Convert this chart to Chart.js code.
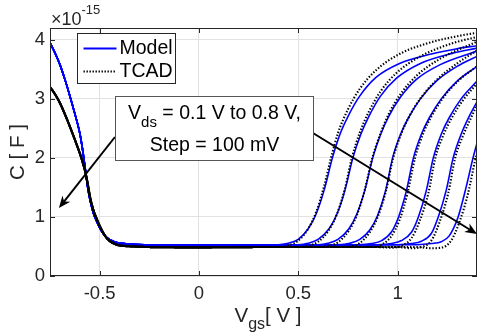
<!DOCTYPE html>
<html>
<head>
<meta charset="utf-8">
<script src="https://cdn.jsdelivr.net/npm/chart.js@4.4.1/dist/chart.umd.min.js"></script>
<style>
html,body{margin:0;padding:0;background:#fff;}
#wrap{width:478px;height:333px;position:relative;}
</style>
</head>
<body>
<div id="wrap"><canvas id="c"></canvas></div>
<script>
// ---------- data (C in units of 1e-15 F, Vgs in V) ----------
const xTicks = [-0.5, 0, 0.5, 1];
const yTicks = [0, 1, 2, 3, 4];
const xRange = [-0.75, 1.4];
const yRange = [0, 4.2];
const legendLabels = ['Model', 'TCAD'];
const exponentText = ['\u00d710', '-15'];
const xTitle = ['V', 'gs', '[ V ]'];
const yTitle = 'C [ F ]';
const noteLine1 = ['V', 'ds', ' = 0.1 V to 0.8 V,'];
const noteLine2 = 'Step = 100 mV';

// shared branch at negative Vgs (identical for all Vds)
const modelLeft = [[-0.75,3.95],[-0.725,3.78],[-0.70,3.58],[-0.675,3.33],[-0.65,3.05],[-0.625,2.75],[-0.60,2.42],[-0.585,2.12],[-0.572,1.80],[-0.56,1.50],[-0.548,1.28],[-0.53,1.05],[-0.514,0.92],[-0.50,0.82],[-0.48,0.71],[-0.464,0.65],[-0.44,0.60],[-0.414,0.565],[-0.38,0.55],[-0.33,0.535],[-0.25,0.525],[-0.1,0.52],[0.1,0.52],[0.3,0.52]];
const tcadLeft = [[-0.75,3.20],[-0.725,3.08],[-0.70,2.93],[-0.675,2.74],[-0.65,2.53],[-0.625,2.31],[-0.60,2.08],[-0.585,1.92],[-0.572,1.76],[-0.56,1.56],[-0.548,1.33],[-0.53,1.10],[-0.514,0.96],[-0.50,0.85],[-0.48,0.72],[-0.464,0.64],[-0.44,0.57],[-0.414,0.53],[-0.38,0.51],[-0.33,0.50],[-0.25,0.49],[0.0,0.485],[0.3,0.49]];

// positive-Vgs branch, one per Vds = 0.1 ... 0.8 V
const modelVds01 = [[0.40,0.53],[0.45,0.555],[0.50,0.62],[0.55,0.80],[0.59,1.05],[0.63,1.45],[0.672,2.0],[0.71,2.4],[0.75,2.7],[0.81,3.05],[0.89,3.36],[1.01,3.6],[1.17,3.76],[1.30,3.85],[1.40,3.9]];
const modelVds02 = [[0.50,0.53],[0.55,0.555],[0.60,0.62],[0.655,0.80],[0.695,1.05],[0.735,1.45],[0.775,2.0],[0.815,2.4],[0.855,2.7],[0.915,3.05],[0.995,3.35],[1.115,3.6],[1.275,3.77],[1.40,3.86]];
const modelVds03 = [[0.60,0.53],[0.65,0.555],[0.70,0.62],[0.755,0.80],[0.795,1.05],[0.835,1.45],[0.875,2.0],[0.915,2.4],[0.955,2.7],[1.015,3.03],[1.095,3.33],[1.215,3.58],[1.40,3.81]];
const modelVds04 = [[0.70,0.53],[0.76,0.555],[0.81,0.62],[0.86,0.78],[0.90,1.03],[0.94,1.45],[0.975,2.0],[1.015,2.4],[1.055,2.68],[1.115,3.0],[1.195,3.3],[1.30,3.55],[1.40,3.72]];
const modelVds05 = [[0.80,0.53],[0.87,0.55],[0.92,0.6],[0.97,0.75],[1.005,1.0],[1.045,1.45],[1.08,2.0],[1.12,2.4],[1.16,2.68],[1.22,3.0],[1.30,3.3],[1.40,3.55]];
const modelVds06 = [[0.90,0.53],[0.97,0.55],[1.02,0.6],[1.07,0.74],[1.105,1.0],[1.145,1.45],[1.18,2.0],[1.22,2.4],[1.26,2.68],[1.32,3.0],[1.40,3.3]];
const modelVds07 = [[1.00,0.53],[1.07,0.55],[1.12,0.59],[1.17,0.72],[1.205,1.0],[1.245,1.45],[1.28,2.0],[1.32,2.4],[1.36,2.7],[1.40,2.95]];
const modelVds08 = [[1.10,0.53],[1.17,0.55],[1.22,0.58],[1.26,0.68],[1.305,1.0],[1.345,1.5],[1.38,2.0],[1.40,2.25]];

const tcadVds01 = [[0.40,0.49],[0.45,0.52],[0.50,0.60],[0.55,0.80],[0.59,1.08],[0.63,1.52],[0.665,2.0],[0.70,2.42],[0.75,2.82],[0.81,3.17],[0.89,3.48],[1.01,3.76],[1.17,3.96],[1.30,4.06],[1.40,4.12]];
const tcadVds02 = [[0.50,0.49],[0.55,0.51],[0.60,0.58],[0.655,0.78],[0.695,1.05],[0.735,1.48],[0.77,2.0],[0.81,2.43],[0.855,2.78],[0.915,3.13],[0.995,3.44],[1.115,3.72],[1.275,3.94],[1.40,4.05]];
const tcadVds03 = [[0.60,0.49],[0.65,0.51],[0.70,0.57],[0.755,0.77],[0.795,1.03],[0.835,1.46],[0.873,2.0],[0.915,2.42],[0.955,2.74],[1.015,3.08],[1.095,3.39],[1.215,3.68],[1.40,3.97]];
const tcadVds04 = [[0.70,0.49],[0.76,0.50],[0.81,0.56],[0.86,0.74],[0.90,1.0],[0.94,1.42],[0.978,2.0],[1.02,2.42],[1.06,2.71],[1.12,3.03],[1.20,3.33],[1.30,3.6],[1.40,3.82]];
const tcadVds05 = [[0.80,0.49],[0.87,0.49],[0.92,0.53],[0.97,0.68],[1.01,0.95],[1.05,1.4],[1.088,2.0],[1.13,2.42],[1.17,2.7],[1.23,3.02],[1.31,3.32],[1.40,3.55]];
const tcadVds06 = [[0.90,0.49],[0.97,0.48],[1.02,0.51],[1.07,0.64],[1.11,0.92],[1.155,1.4],[1.19,2.0],[1.23,2.38],[1.27,2.66],[1.33,2.98],[1.40,3.26]];
const tcadVds07 = [[1.00,0.49],[1.07,0.47],[1.12,0.49],[1.17,0.6],[1.21,0.9],[1.255,1.4],[1.29,2.0],[1.33,2.38],[1.37,2.68],[1.40,2.9]];
const tcadVds08 = [[1.10,0.49],[1.17,0.47],[1.22,0.48],[1.27,0.6],[1.31,0.9],[1.355,1.4],[1.39,1.95],[1.40,2.08]];

const modelCurves = [modelVds01, modelVds02, modelVds03, modelVds04, modelVds05, modelVds06, modelVds07, modelVds08];
const tcadCurves = [tcadVds01, tcadVds02, tcadVds03, tcadVds04, tcadVds05, tcadVds06, tcadVds07, tcadVds08];

// ---------- annotation placement (data coordinates) ----------
const notePlace = {box: [-0.423, 3.048, 0.574, 1.964]};
const arrowPlace = [
  [-0.423, 2.354, -0.705, 1.152],
  [0.574, 2.422, 1.400, 0.711]
];

// ---------- styles ----------
const FONT = '"Liberation Sans", Arial, Helvetica, sans-serif';
const AX = '#262626';
const BLUE = '#0000ff';

const toPts = arr => arr.map(p => ({x: p[0], y: p[1]}));
const datasets = [];
tcadCurves.forEach((c, i) => {
  datasets.push({
    label: 'TCAD', data: toPts(tcadLeft.concat(c)),
    borderColor: '#000', borderWidth: 2.1, borderDash: [1.4, 1.8], borderDashOffset: (i % 4) * 0.8,
    showLine: true, pointRadius: 0, cubicInterpolationMode: 'monotone', fill: false
  });
});
modelCurves.forEach(c => {
  datasets.push({
    label: 'Model', data: toPts(modelLeft.concat(c)),
    borderColor: BLUE, borderWidth: 1.6,
    showLine: true, pointRadius: 0, cubicInterpolationMode: 'monotone', fill: false
  });
});

function drawArrow(ctx, x1, y1, x2, y2) {
  const a = Math.atan2(y2 - y1, x2 - x1), L = 12, W = 5, c = Math.cos(a), s = Math.sin(a);
  ctx.beginPath();
  ctx.moveTo(x1, y1);
  ctx.lineTo(x2 - c * L * 0.6, y2 - s * L * 0.6);
  ctx.stroke();
  ctx.beginPath();
  ctx.moveTo(x2, y2);
  ctx.lineTo(x2 - c * L + s * W, y2 - s * L - c * W);
  ctx.lineTo(x2 - c * L * 0.7, y2 - s * L * 0.7);
  ctx.lineTo(x2 - c * L - s * W, y2 - s * L + c * W);
  ctx.closePath();
  ctx.fill();
}

function richLine(ctx, parts, cx, base, big, small, subDrop) {
  ctx.font = big + 'px ' + FONT;
  const w0 = ctx.measureText(parts[0]).width;
  const w2 = ctx.measureText(parts[2]).width;
  ctx.font = small + 'px ' + FONT;
  const w1 = ctx.measureText(parts[1]).width;
  let x = cx - (w0 + w1 + w2) / 2;
  ctx.textAlign = 'left';
  ctx.textBaseline = 'alphabetic';
  ctx.font = big + 'px ' + FONT;
  ctx.fillText(parts[0], x, base); x += w0;
  ctx.font = small + 'px ' + FONT;
  ctx.fillText(parts[1], x, base + subDrop); x += w1;
  ctx.font = big + 'px ' + FONT;
  ctx.fillText(parts[2], x, base);
}

const deco = {
  id: 'deco',
  afterDatasetsDraw(chart) {
    const ctx = chart.ctx, a = chart.chartArea, sx = chart.scales.x, sy = chart.scales.y;
    ctx.save();
    // frame
    ctx.strokeStyle = AX; ctx.lineWidth = 1;
    ctx.strokeRect(a.left + 0.5, a.top + 0.5, a.right - a.left - 1, a.bottom - a.top - 1);
    // inward ticks
    ctx.beginPath();
    xTicks.forEach(v => {
      const p = Math.round(sx.getPixelForValue(v)) + 0.5;
      ctx.moveTo(p, a.bottom); ctx.lineTo(p, a.bottom - 5);
      ctx.moveTo(p, a.top); ctx.lineTo(p, a.top + 5);
    });
    yTicks.forEach(v => {
      const p = Math.round(sy.getPixelForValue(v)) + 0.5;
      ctx.moveTo(a.left, p); ctx.lineTo(a.left + 5, p);
      ctx.moveTo(a.right, p); ctx.lineTo(a.right - 5, p);
    });
    ctx.stroke();

    // arrows
    ctx.strokeStyle = '#000'; ctx.fillStyle = '#000'; ctx.lineWidth = 2;
    arrowPlace.forEach(r => drawArrow(ctx, sx.getPixelForValue(r[0]), sy.getPixelForValue(r[1]), sx.getPixelForValue(r[2]), sy.getPixelForValue(r[3])));

    // note box
    const bx1 = Math.round(sx.getPixelForValue(notePlace.box[0])) + 0.5;
    const by1 = Math.round(sy.getPixelForValue(notePlace.box[1])) + 0.5;
    const bx2 = Math.round(sx.getPixelForValue(notePlace.box[2])) + 0.5;
    const by2 = Math.round(sy.getPixelForValue(notePlace.box[3])) + 0.5;
    ctx.fillStyle = '#fff'; ctx.fillRect(bx1, by1, bx2 - bx1, by2 - by1);
    ctx.strokeStyle = '#555'; ctx.lineWidth = 1; ctx.strokeRect(bx1, by1, bx2 - bx1, by2 - by1);
    ctx.fillStyle = '#000';
    const cx = (bx1 + bx2) / 2;
    richLine(ctx, noteLine1, cx, by1 + 22, 19.5, 15, 8);
    ctx.font = '19.5px ' + FONT; ctx.textAlign = 'center'; ctx.textBaseline = 'alphabetic';
    ctx.fillText(noteLine2, cx, by1 + 54);

    // legend
    const lx = a.left + 27.5, ly = a.top + 5.5, lw = 98, lh = 50;
    ctx.fillStyle = '#fff'; ctx.fillRect(lx, ly, lw, lh);
    ctx.strokeStyle = AX; ctx.lineWidth = 1; ctx.strokeRect(lx, ly, lw, lh);
    ctx.strokeStyle = BLUE; ctx.lineWidth = 1.8;
    ctx.beginPath(); ctx.moveTo(lx + 6, ly + 15); ctx.lineTo(lx + 39, ly + 15); ctx.stroke();
    ctx.strokeStyle = '#000'; ctx.lineWidth = 2.2; ctx.setLineDash([1.4, 1.6]);
    ctx.beginPath(); ctx.moveTo(lx + 6, ly + 38); ctx.lineTo(lx + 39, ly + 38); ctx.stroke();
    ctx.setLineDash([]);
    ctx.fillStyle = '#000'; ctx.font = '19.5px ' + FONT; ctx.textAlign = 'left'; ctx.textBaseline = 'middle';
    ctx.fillText(legendLabels[0], lx + 42, ly + 15);
    ctx.fillText(legendLabels[1], lx + 42, ly + 38);

    // axis titles
    ctx.fillStyle = AX;
    richLine(ctx, xTitle, 268, 322, 20.5, 16, 7);
    ctx.save();
    ctx.translate(18, (a.top + a.bottom) / 2);
    ctx.rotate(-Math.PI / 2);
    ctx.font = '20.5px ' + FONT; ctx.textAlign = 'center'; ctx.textBaseline = 'middle';
    ctx.fillText(yTitle, 0, 0);
    ctx.restore();
    // exponent
    ctx.font = '18px ' + FONT; ctx.textAlign = 'left'; ctx.textBaseline = 'alphabetic';
    ctx.fillText(exponentText[0], 51, 25);
    const we = ctx.measureText(exponentText[0]).width;
    ctx.font = '13px ' + FONT;
    ctx.fillText(exponentText[1], 51 + we, 14);
    ctx.restore();
  }
};

new Chart(document.getElementById('c'), {
  type: 'scatter',
  data: {datasets},
  options: {
    responsive: true, maintainAspectRatio: false, animation: false, events: [],
    layout: {padding: {top: 28, right: 1, left: 0, bottom: 0}},
    plugins: {legend: {display: false}, tooltip: {enabled: false}},
    scales: {
      x: {
        type: 'linear', min: xRange[0], max: xRange[1],
        afterBuildTicks: s => { s.ticks = xTicks.map(v => ({value: v})); },
        afterFit: s => { s.height = 57; },
        grid: {color: '#e2e2e2', lineWidth: 1, drawTicks: false},
        border: {display: false},
        ticks: {padding: 7, color: AX, font: {family: FONT, size: 18.5}, callback: v => String(v), maxRotation: 0}
      },
      y: {
        type: 'linear', min: yRange[0], max: yRange[1],
        afterBuildTicks: s => { s.ticks = yTicks.map(v => ({value: v})); },
        afterFit: s => { s.width = 50; },
        grid: {color: '#e2e2e2', lineWidth: 1, drawTicks: false},
        border: {display: false},
        ticks: {padding: 5, color: AX, font: {family: FONT, size: 18.5}, callback: v => String(v)}
      }
    }
  },
  plugins: [deco]
});
</script>
</body>
</html>
